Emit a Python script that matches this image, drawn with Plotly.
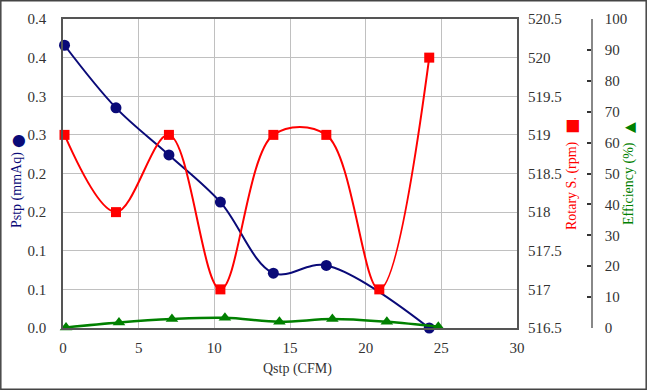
import plotly.graph_objects as go

# Data
q_p = [0.1, 3.5, 7.0, 10.4, 13.9, 17.4, 24.2]
pstp = [0.366, 0.285, 0.224, 0.163, 0.071, 0.081, 0.0]

q_r = [0.1, 3.5, 7.0, 10.4, 13.9, 17.4, 20.9, 24.2]
rpm = [519.0, 518.0, 519.0, 517.0, 519.0, 519.0, 517.0, 520.0]

q_e = [0.2, 3.7, 7.2, 10.7, 14.3, 17.8, 21.4, 24.8]
eff = [0.2, 1.8, 2.9, 3.3, 2.0, 2.9, 2.0, 0.4]

y1_ticks = [0.0, 0.05, 0.10, 0.15, 0.20, 0.25, 0.30, 0.35, 0.40]
y1_labels = ["0.0", "0.1", "0.1", "0.2", "0.2", "0.3", "0.3", "0.4", "0.4"]
y2_ticks = [516.5, 517, 517.5, 518, 518.5, 519, 519.5, 520, 520.5]
y2_labels = ["516.5", "517", "517.5", "518", "518.5", "519", "519.5", "520", "520.5"]
y3_ticks = [0, 10, 20, 30, 40, 50, 60, 70, 80, 90, 100]
x_ticks = [0, 5, 10, 15, 20, 25, 30]

W, H = 647, 390
px0, px1 = 63, 517
py0, py1 = 19, 328

NAVY = "#0a0a78"
RED = "#ff0000"
GREEN = "#008000"
FONT = "Liberation Serif, Times New Roman, DejaVu Serif, serif"

fig = go.Figure()
fig.add_trace(go.Scatter(x=q_p, y=pstp, mode="lines+markers", yaxis="y",
                         line=dict(color=NAVY, width=2, shape="spline", smoothing=1),
                         marker=dict(symbol="circle", size=11, color=NAVY), cliponaxis=False))
fig.add_trace(go.Scatter(x=q_r, y=rpm, mode="lines+markers", yaxis="y2",
                         line=dict(color=RED, width=2, shape="spline", smoothing=1),
                         marker=dict(symbol="square", size=10, color=RED), cliponaxis=False))
fig.add_trace(go.Scatter(x=q_e, y=eff, mode="lines+markers", yaxis="y3",
                         line=dict(color=GREEN, width=2.5, shape="spline", smoothing=1),
                         marker=dict(symbol="triangle-up", size=11, color=GREEN), cliponaxis=False))

ydom = [1 - py1 / H, 1 - py0 / H]
tickfont = dict(family=FONT, size=15, color="#333333")


def P(x, y):
    return x / W, 1 - y / H


annots = []
ax, ay = P(297, 369)
annots.append(dict(text="Qstp (CFM)", x=ax, y=ay, xref="paper", yref="paper", showarrow=False,
                   xanchor="center", yanchor="middle",
                   font=dict(family=FONT, size=14, color="#333333")))

titles = [
    ("Pstp (mmAq)", 17, 190, NAVY, "●", 141, 16),
    ("Rotary S. (rpm)", 572, 186, RED, "■", 127, 16),
    ("Efficiency (%)", 629, 184, GREEN, "▲", 128, 14),
]
for text, x, y, color, sym, sy, ssize in titles:
    ax, ay = P(x, y)
    annots.append(dict(text=text, x=ax, y=ay, xref="paper", yref="paper", showarrow=False,
                       xanchor="center", yanchor="middle",
                       textangle=-90, font=dict(family=FONT, size=14, color=color)))
    sx, syp = P(x, sy)
    annots.append(dict(text=sym, x=sx, y=syp, xref="paper", yref="paper", showarrow=False,
                       xanchor="center", yanchor="middle",
                       textangle=-90, font=dict(family="DejaVu Sans", size=ssize, color=color)))

fig.update_layout(
    width=W, height=H,
    margin=dict(l=0, r=0, t=0, b=0, autoexpand=False),
    paper_bgcolor="white", plot_bgcolor="white",
    showlegend=False,
    font=dict(family=FONT, size=14, color="#333333"),
    xaxis=dict(domain=[px0 / W, px1 / W], range=[0, 30], tickvals=x_ticks,
               showgrid=True, gridcolor="#c0c0c0", gridwidth=1,
               showline=True, linecolor="#555555", linewidth=1.5, mirror=True,
               ticks="", tickfont=tickfont, ticklabelstandoff=5, zeroline=False),
    yaxis=dict(domain=ydom, range=[0, 0.4], tickvals=y1_ticks, ticktext=y1_labels,
               showgrid=True, gridcolor="#c0c0c0", gridwidth=1,
               showline=True, linecolor="#555555", linewidth=1.5, mirror=True,
               ticks="", tickfont=tickfont, ticklabelstandoff=12, zeroline=False),
    yaxis2=dict(range=[516.5, 520.5], tickvals=y2_ticks, ticktext=y2_labels,
                overlaying="y", side="right", anchor="x",
                showgrid=False, showline=False, ticks="", tickfont=tickfont,
                ticklabelstandoff=10, zeroline=False),
    yaxis3=dict(range=[0, 100], tickvals=y3_ticks,
                overlaying="y", side="right", anchor="free", position=592 / W,
                showgrid=False, showline=True, linecolor="#888888", linewidth=1.5,
                ticks="inside", ticklen=4, tickcolor="#333333", tickwidth=1.5,
                tickfont=tickfont, ticklabelstandoff=9, zeroline=False),
    annotations=annots,
    shapes=[dict(type="rect", xref="paper", yref="paper", x0=0.8 / W, x1=1 - 0.8 / W,
                 y0=0.8 / H, y1=1 - 0.8 / H, line=dict(color="#444444", width=1.5))],
)

fig.write_html("out.html", config={"displayModeBar": False},
               post_script="document.body.style.margin='0';document.body.style.padding='0';")
